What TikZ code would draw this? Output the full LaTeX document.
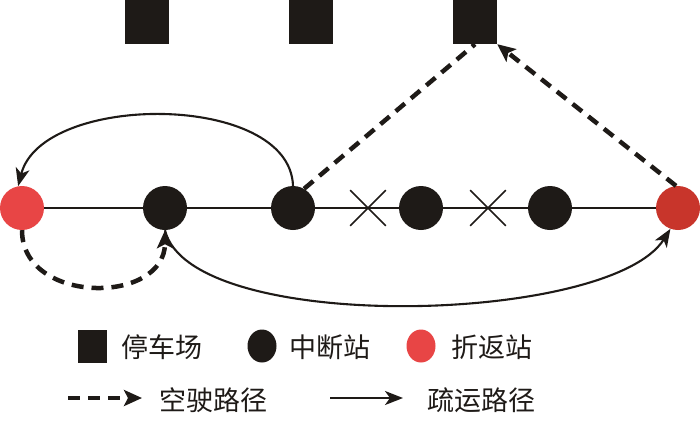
\documentclass[tikz,border=0pt]{standalone}
\usepackage{fontspec}
\newfontfamily\cjk{Noto Sans CJK SC}
\usetikzlibrary{arrows.meta,shapes.misc,shapes.geometric}
\definecolor{ink}{HTML}{1E1A17}
\definecolor{redA}{HTML}{E84545}
\definecolor{redB}{HTML}{C8352B}
\begin{document}
\begin{tikzpicture}[x=1pt,y=-1pt,
  depot/.style={rectangle,fill=ink,minimum size=44pt,inner sep=0pt},
  station/.style={circle,fill=ink,minimum size=44pt,inner sep=0pt},
  turn/.style={circle,minimum size=44pt,inner sep=0pt},
  cut/.style={cross out,draw=ink,line width=1.6pt,minimum size=34pt,inner sep=0pt},
  track/.style={draw=ink,line width=1.4pt},
  empty/.style={draw=ink,line width=4.5pt,dash pattern=on 12pt off 8pt,-{Stealth[length=18pt,width=16pt,inset=4pt]}},
  serve/.style={draw=ink,line width=2.1pt,-{Stealth[length=18pt,width=14pt,inset=5pt]}},
  lbl/.style={font=\cjk\fontsize{27}{29}\selectfont,inner sep=0pt,anchor=west,text=ink}]
\useasboundingbox (0,0) rectangle (700,421);
% depots
\node[depot] (s1) at (147,22) {};
\node[depot] (s2) at (311,22) {};
\node[depot] (s3) at (475,22) {};
% track
\coordinate (tl) at (22,208);
\coordinate (tr) at (678,208);
\draw[track] (tl) -- (tr);
% stations
\node[turn,fill=redA] (r1) at (22,208) {};
\node[station] (b1) at (165,208) {};
\node[station] (b2) at (293,208) {};
\node[station] (b3) at (421,208) {};
\node[station] (b4) at (550,208) {};
\node[turn,fill=redB] (r2) at (678,208) {};
\node[cut] (c1) at (368,208) {};
\node[cut] (c2) at (488,208) {};
% routes
\draw[serve] (b2.north) .. controls (290,92) and (42,92) .. (r1.100);
\draw[empty,-] (b2.60) -- (s3.south);
\draw[empty] (r2.95) -- (s3.south east);
\draw[empty] (r1.south) .. controls (22,305) and (165,305) .. (b1.south);
\draw[serve] (b1.south) .. controls (190,335) and (610,325) .. (r2.250);
% legend
\node[rectangle,fill=ink,minimum width=29pt,minimum height=33pt,inner sep=0pt] (k1) at (92,346) {};
\node[lbl] (t1) at (121,347) {停车场};
\node[ellipse,fill=ink,minimum width=29pt,minimum height=33pt,inner sep=0pt] (k2) at (262,346) {};
\node[lbl] (t2) at (289,347) {中断站};
\node[ellipse,fill=redA,minimum width=29pt,minimum height=33pt,inner sep=0pt] (k3) at (421,346) {};
\node[lbl] (t3) at (451,347) {折返站};
\coordinate (la1) at (68,398);
\coordinate (la2) at (142,398);
\draw[empty] (la1) -- (la2);
\node[lbl] (t4) at (159,400) {空驶路径};
\coordinate (lb1) at (330,398);
\coordinate (lb2) at (403,398);
\draw[serve] (lb1) -- (lb2);
\node[lbl] (t5) at (427,400) {疏运路径};
\end{tikzpicture}
\end{document}
